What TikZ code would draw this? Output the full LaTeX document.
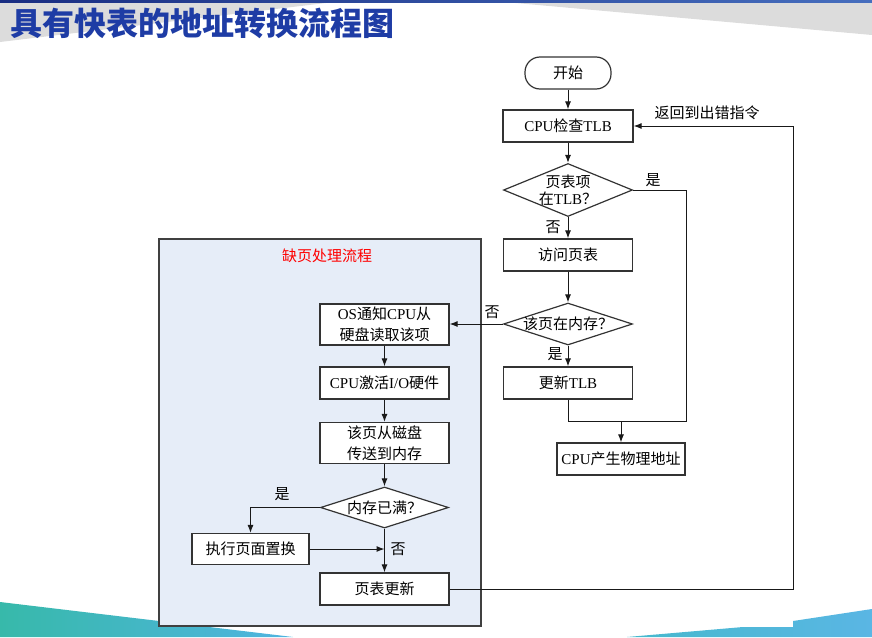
\documentclass[tikz,border=0pt]{standalone}
\usepackage{fontspec}
\setmainfont{Noto Sans CJK SC}
\newfontfamily\lat{Liberation Serif}
\usetikzlibrary{shapes.geometric,arrows.meta}
\definecolor{ttlblue}{RGB}{30,60,165}
\definecolor{pfblue}{RGB}{230,237,248}
\definecolor{wedgegray}{RGB}{220,220,220}
\begin{document}
\begin{tikzpicture}[x=1pt,y=-1pt,
box/.style={draw=black!80,line width=1.2pt,fill=white,minimum width=129,minimum height=32,inner sep=3pt,align=center,font=\fontsize{15}{21}\selectfont},
term/.style={box,rounded corners=15pt,minimum width=86},
dia/.style={diamond,draw=black!80,line width=1.2pt,fill=white,inner sep=0pt},
dlab/.style={align=center,font=\fontsize{15}{17}\selectfont},
lab/.style={font=\fontsize{15}{15}\selectfont,inner sep=1pt},
line/.style={line width=1pt,draw=black!90},
arr/.style={line,-{Latex[length=8pt,width=6pt]}},
panel/.style={draw=black!75,line width=1.4pt,fill=pfblue,minimum width=322,minimum height=387,inner sep=0pt}
]
\useasboundingbox (0,0) rectangle (872,637);
% slide decoration
\fill[wedgegray] (0,2.5) -- (0,42) -- (330,2.5) -- cycle;
\fill[wedgegray] (510,2.5) -- (872,35) -- (872,2.5) -- cycle;
\shade[left color={rgb,255:red,25;green,45;blue,130},right color={rgb,255:red,70;green,110;blue,190}] (0,0) rectangle (872,2.5);
\shade[left color={rgb,255:red,55;green,185;blue,170},right color={rgb,255:red,80;green,180;blue,225}] (0,602) -- (293,637) -- (0,637) -- cycle;
\shade[left color={rgb,255:red,70;green,185;blue,205},right color={rgb,255:red,90;green,182;blue,228}] (627,637) -- (743,627) -- (793,627) -- (793,621) -- (872,609) -- (872,637) -- cycle;
\node[anchor=west,text=ttlblue,font=\fontsize{32}{32}\selectfont\bfseries,inner sep=0pt] (title) at (10,23) {具有快表的地址转换流程图};

% page fault panel
\node[panel] (pf) at (320,432.5) {};
\node[font=\fontsize{15}{15}\selectfont,text=red] (pft) at (327,256) {缺页处理流程};

% main flow
\node[term] (start) at (568,73) {开始};
\node[box,minimum width=130] (chk) at (568,126) {{\lat CPU}检查{\lat TLB}};
\node[dia,minimum width=129,minimum height=53,label={[dlab]center:{页表项\\在{\lat TLB}？}}] (q1) at (568,190) {};
\node[box] (visit) at (568,255) {访问页表};
\node[dia,minimum width=129,minimum height=42,label={[dlab]center:{该页在内存？}}] (q2) at (568,324) {};
\node[box] (upd) at (568,383) {更新{\lat TLB}};
\node[box,minimum width=128] (phys) at (621,459) {{\lat CPU}产生物理地址};

% page fault flow
\node[box] (os) at (384.5,324.5) {{\lat OS}通知{\lat CPU}从\\硬盘读取该项};
\node[box] (io) at (384.5,383) {{\lat CPU}激活{\lat I/O}硬件};
\node[box] (disk) at (384.5,443) {该页从磁盘\\传送到内存};
\node[dia,minimum width=128,minimum height=41,label={[dlab]center:{内存已满？}}] (q3) at (384.5,507.5) {};
\node[box,minimum width=117,minimum height=31] (swap) at (250.5,549) {执行页面置换};
\node[box] (tbl) at (384.5,589) {页表更新};

% labels
\node[lab] (yes1) at (653,180) {是};
\node[lab] (no1) at (553,227) {否};
\node[lab] (no2) at (492,312) {否};
\node[lab] (yes2) at (555,354) {是};
\node[lab] (yes3) at (282,494) {是};
\node[lab] (no3) at (398,549) {否};
\node[lab] (ret) at (707,113) {返回到出错指令};

\coordinate (yesr) at (686,421);
\coordinate (mrg) at (621,421);
\coordinate (retr) at (793,126);
\coordinate (nojoin) at (384.5,549);

% connectors
\draw[arr] (start) -- (chk);
\draw[arr] (chk) -- (q1);
\draw[arr] (q1) -- (visit);
\draw[arr] (visit) -- (q2);
\draw[arr] (q2.west) -- (q2.west -| os.east);
\draw[arr] (q2) -- (upd);
\draw[line] (q1.east) -| (yesr) -| (upd.south);
\draw[arr] (mrg) -- (phys);
\draw[arr] (tbl.east) -| (retr) -- (chk.east);
\draw[arr] (os) -- (io);
\draw[arr] (io) -- (disk);
\draw[arr] (disk) -- (q3);
\draw[arr] (q3.west) -| (swap.north);
\draw[arr] (swap) -- (nojoin);
\draw[arr] (q3) -- (tbl);
\end{tikzpicture}
\end{document}
